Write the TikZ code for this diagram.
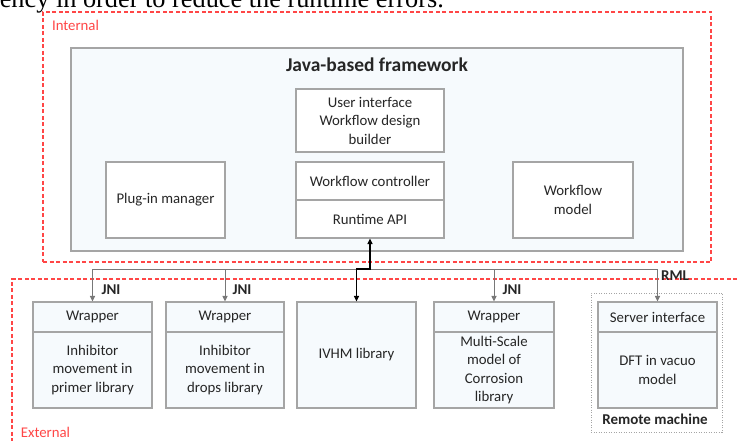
\documentclass[tikz,border=0pt]{standalone}
\usepackage{fontspec}
\setmainfont{Carlito}
\newfontfamily\captionserif{Liberation Serif}
\usetikzlibrary{arrows.meta}
\definecolor{dashred}{RGB}{255,70,70}
\definecolor{boxgray}{RGB}{165,165,165}
\definecolor{paleblue}{RGB}{246,250,253}
\definecolor{wiregray}{RGB}{120,120,120}

\begin{document}
\begin{tikzpicture}[x=1pt,y=-1pt,
  txt/.style={font=\fontsize{14.8}{18.5}\selectfont, align=center, text=black!85},
  block/.style={draw=boxgray, line width=1.1pt, rectangle, inner sep=0pt, txt},
  libhead/.style={block, fill=paleblue, minimum height=30pt},
  libbody/.style={block, fill=paleblue, minimum height=76pt},
  zone/.style={draw=dashred, line width=1.2pt, dash pattern=on 4pt off 2.5pt},
  zonelabel/.style={text=dashred, font=\fontsize{14.8}{18}\selectfont, inner sep=0pt},
  wire/.style={draw=wiregray, line width=1pt},
  tip/.style={-{Triangle[length=5.5pt,width=5pt]}},
  proto/.style={font=\bfseries\fontsize{15}{18}\selectfont, inner sep=0pt, text=black!85}
]
\clip (0,0) rectangle (737,441);
\fill[white] (0,0) rectangle (737,441);

% running text of the page above the figure
\node[anchor=base east, inner sep=0pt, font=\captionserif\fontsize{26.3}{30}\selectfont] (pagetext) at (444,7.3) {ency in order to reduce the runtime errors.};

% internal zone
\node[zone, rectangle, minimum width=668pt, minimum height=250pt, inner sep=0pt] (internal) at (377,137) {};
\node[zonelabel] (intlabel) at (75.5,25) {Internal};

% Java-based framework
\node[block, fill=paleblue, line width=1.3pt, minimum width=612pt, minimum height=203pt] (java) at (377,149.5) {};
\node[font=\bfseries\fontsize{19.5}{22}\selectfont, inner sep=0pt, text=black!85] (title) at (377,65) {Java-based framework};

\node[block, fill=white, minimum width=148pt, minimum height=63pt] (ui) at (370,120.5) {User interface\\Workflow design\\builder};
\node[block, fill=white, minimum width=148pt, minimum height=38pt] (ctrl) at (370,181) {Workflow controller};
\node[block, fill=white, minimum width=148pt, minimum height=38pt] (api) at (370,219) {Runtime API};
\node[block, fill=white, minimum width=119pt, minimum height=76pt] (plugin) at (165.5,200) {Plug-in manager};
\node[block, fill=white, minimum width=120pt, minimum height=76pt] (model) at (573,200) {Workflow\\model};

% external zone
\coordinate (extR) at (737,279);
\coordinate (extC) at (12,279);
\coordinate (extB) at (12,441);
\draw[zone] (extR) -- (extC) -- (extB);
\node[zonelabel] (extlabel) at (45.5,432) {External};

% remote machine
\node[draw=boxgray, line width=0.9pt, dash pattern=on 1pt off 1.5pt, rectangle, minimum width=131pt, minimum height=139pt, inner sep=0pt] (remote) at (656.5,362.5) {};
\node[proto] (remlabel) at (655,419) {Remote machine};

% libraries
\node[libhead, minimum width=119pt] (wrap1) at (92.5,317) {Wrapper};
\node[libbody, minimum width=119pt] (lib1) at (92.5,370) {Inhibitor\\movement in\\primer library};

\node[libhead, minimum width=118pt] (wrap2) at (225,317) {Wrapper};
\node[libbody, minimum width=118pt] (lib2) at (225,370) {Inhibitor\\movement in\\drops library};

\node[block, fill=paleblue, minimum width=119pt, minimum height=106pt] (ivhm) at (356.5,355) {IVHM library};

\node[libhead, minimum width=120pt] (wrap4) at (494,317) {Wrapper};
\node[libbody, minimum width=120pt] (lib4) at (494,370) {Multi-Scale\\model of\\Corrosion\\library};

\node[libhead, minimum width=119pt] (server) at (657.5,317) {Server interface};
\node[libbody, minimum width=119pt] (dft) at (657.5,370) {DFT in vacuo\\model};

% bus between framework and libraries
\coordinate (bus) at (0,269);
\draw[wire] (wrap1.north |- bus) -- (server.north |- bus);
\draw[wire, tip] (wrap1.north |- bus) -- (wrap1.north);
\draw[wire, tip] (wrap2.north |- bus) -- (wrap2.north);
\draw[wire, tip] (wrap4.north |- bus) -- (wrap4.north);
\draw[wire, tip] (server.north |- bus) -- (server.north);

\draw[line width=1.5pt, {Triangle[length=5.5pt,width=5pt]}-{Triangle[length=5.5pt,width=5pt]}]
  (api.south) -- (api.south |- bus) -- (ivhm.north |- bus) -- (ivhm.north);

% protocol labels
\node[proto] (jni1) at (111,290) {JNI};
\node[proto] (jni2) at (242,290) {JNI};
\node[proto] (jni4) at (512,290) {JNI};
\node[proto] (rml) at (675,276) {RML};
\end{tikzpicture}
\end{document}
